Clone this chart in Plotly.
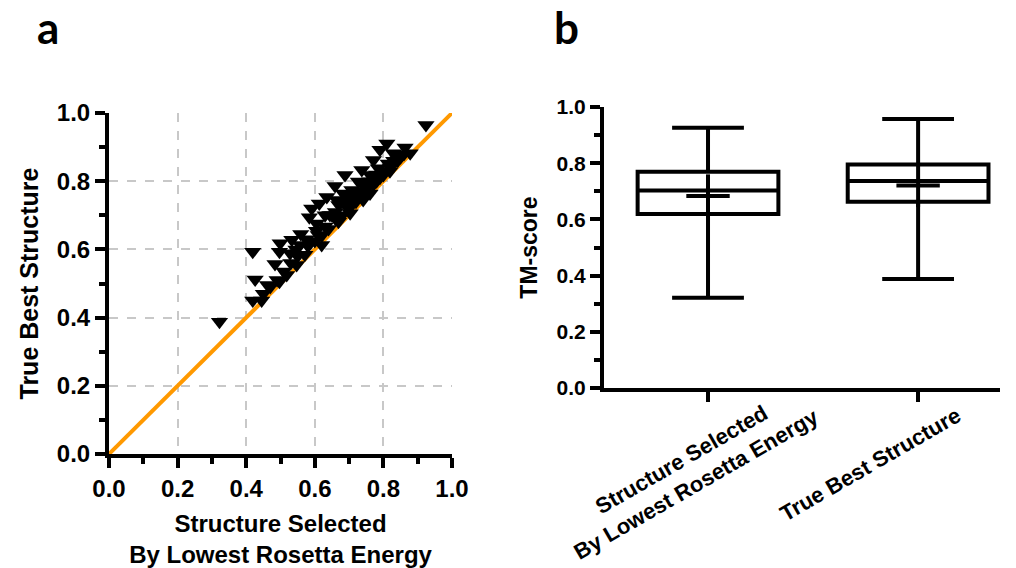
import plotly.graph_objects as go

# Panel a: TM-score of structure picked by lowest Rosetta energy (x) vs true best structure (y)
selected_tm = [
    0.322, 0.419, 0.426, 0.419, 0.445, 0.462, 0.484, 0.497, 0.499, 0.497,
    0.518, 0.533, 0.528, 0.547, 0.559, 0.557, 0.571, 0.586, 0.584, 0.591,
    0.605, 0.610, 0.620, 0.613, 0.635, 0.630, 0.644, 0.659, 0.664, 0.669,
    0.688, 0.683, 0.693, 0.703, 0.708, 0.717, 0.727, 0.737, 0.732, 0.741,
    0.751, 0.761, 0.771, 0.776, 0.785, 0.790, 0.810, 0.800, 0.814, 0.829,
    0.843, 0.863, 0.878, 0.819, 0.761, 0.924,
    0.450, 0.470, 0.490, 0.510, 0.530, 0.550, 0.580, 0.600, 0.620, 0.640,
    0.660, 0.680, 0.700, 0.720, 0.740, 0.750, 0.770, 0.790, 0.800, 0.820,
    0.840, 0.860, 0.650, 0.690, 0.710, 0.730, 0.760, 0.780,
    0.630, 0.670, 0.700, 0.720, 0.740, 0.760, 0.780, 0.660, 0.690, 0.710,
    0.605, 0.575, 0.545, 0.830, 0.850,
]
best_tm = [
    0.388, 0.593, 0.512, 0.450, 0.450, 0.496, 0.557, 0.505, 0.618, 0.593,
    0.525, 0.628, 0.589, 0.554, 0.645, 0.613, 0.584, 0.618, 0.694, 0.720,
    0.676, 0.642, 0.613, 0.735, 0.754, 0.667, 0.701, 0.786, 0.745, 0.681,
    0.818, 0.764, 0.726, 0.706, 0.774, 0.750, 0.799, 0.833, 0.764, 0.745,
    0.784, 0.818, 0.862, 0.799, 0.838, 0.892, 0.911, 0.818, 0.852, 0.882,
    0.862, 0.899, 0.882, 0.829, 0.764, 0.965,
    0.470, 0.490, 0.510, 0.535, 0.560, 0.580, 0.610, 0.625, 0.640, 0.660,
    0.690, 0.700, 0.720, 0.740, 0.760, 0.780, 0.790, 0.810, 0.830, 0.840,
    0.860, 0.880, 0.700, 0.740, 0.760, 0.770, 0.790, 0.800,
    0.700, 0.730, 0.750, 0.770, 0.790, 0.800, 0.820, 0.710, 0.730, 0.760,
    0.655, 0.630, 0.600, 0.860, 0.870,
]
identity_line = [0.0, 1.0]
axis_ticks = [0.0, 0.2, 0.4, 0.6, 0.8, 1.0]

# Panel b: box summary of the two TM-score distributions
categories = ["Structure Selected<br>By Lowest Rosetta Energy", "True Best Structure"]
q1 = [0.619, 0.663]
median = [0.703, 0.737]
q3 = [0.770, 0.795]
lower_whisker = [0.321, 0.388]
upper_whisker = [0.926, 0.957]
mean = [0.683, 0.721]

FONT = "Liberation Sans, Arial, sans-serif"
fig = go.Figure()

fig.add_trace(go.Scatter(
    x=identity_line, y=identity_line, mode="lines",
    line=dict(color="#FF9900", width=4), xaxis="x", yaxis="y",
    showlegend=False, cliponaxis=False,
))
fig.add_trace(go.Scatter(
    x=selected_tm, y=best_tm, mode="markers",
    marker=dict(symbol="triangle-down", size=15, color="black"),
    xaxis="x", yaxis="y", showlegend=False, cliponaxis=False,
))

fig.add_trace(go.Box(
    x=categories, q1=q1, median=median, q3=q3,
    lowerfence=lower_whisker, upperfence=upper_whisker,
    boxpoints=False, width=0.67, whiskerwidth=0.51,
    line=dict(color="black", width=4), fillcolor="white",
    xaxis="x2", yaxis="y2", showlegend=False,
))
# Mean shown as a "+" (horizontal and vertical strokes)
for sym in ("line-ew", "line-ns"):
    fig.add_trace(go.Scatter(
        x=categories, y=mean, mode="markers",
        marker=dict(symbol=sym, size=31, color="black",
                    line=dict(color="black", width=4)),
        xaxis="x2", yaxis="y2", showlegend=False,
    ))

axis_common = dict(
    showline=True, linewidth=4, linecolor="black",
    ticks="outside", ticklen=10, tickwidth=4, tickcolor="black",
    zeroline=False, range=[0, 1], automargin=False,
)
minor_ticks = dict(dtick=0.1, ticks="outside", ticklen=6, tickwidth=4,
                   tickcolor="black", showgrid=False)

fig.update_layout(
    width=1016, height=568,
    margin=dict(l=0, r=0, t=0, b=0),
    paper_bgcolor="white", plot_bgcolor="white",
    font=dict(family=FONT, color="black", weight="bold"),
    xaxis=dict(
        **axis_common, domain=[0.1073, 0.4449], anchor="y",
        tickvals=axis_ticks, tickformat=".1f",
        tickfont=dict(size=24, family=FONT, weight="bold"),
        showgrid=True, gridcolor="#c8c8c8", gridwidth=1.5, griddash="dash",
        minor=minor_ticks,
        title=dict(text="Structure Selected<br>By Lowest Rosetta Energy",
                   font=dict(size=24, family=FONT, weight="bold"), standoff=16),
    ),
    yaxis=dict(
        **axis_common, domain=[0.2007, 0.8010], anchor="x",
        tickvals=axis_ticks, tickformat=".1f",
        tickfont=dict(size=24, family=FONT, weight="bold"),
        showgrid=True, gridcolor="#c8c8c8", gridwidth=1.5, griddash="dash",
        minor=minor_ticks,
        title=dict(text="True Best Structure",
                   font=dict(size=25, family=FONT, weight="bold"), standoff=12),
    ),
    xaxis2=dict(
        type="category", domain=[0.5945, 0.9843], anchor="y2",
        range=[-0.495, 1.39], showline=True, linewidth=4, linecolor="black",
        ticks="outside", ticklen=10, tickwidth=4, tickcolor="black",
        showticklabels=False, showgrid=False, zeroline=False, automargin=False,
    ),
    yaxis2=dict(
        **axis_common, domain=[0.3169, 0.8116], anchor="x2",
        tickvals=axis_ticks, tickformat=".1f",
        tickfont=dict(size=21, family=FONT, weight="bold"),
        showgrid=False,
        minor=minor_ticks,
        title=dict(text="TM-score",
                   font=dict(size=23, family=FONT, weight="bold"), standoff=14),
    ),
)

# Rotated category labels under the box plot
label_shift = [-19, -48]
label_drop = [-84, -76]
for cat, dx, dy in zip(categories, label_shift, label_drop):
    fig.add_annotation(
        x=cat, y=0, xref="x2", yref="y2", text=cat, showarrow=False,
        textangle=-30, xanchor="center", yanchor="middle", align="center",
        xshift=dx, yshift=dy,
        font=dict(size=22, family=FONT, weight="bold", color="black"),
    )

# Panel letters
for letter, px in (("a", 48), ("b", 566)):
    fig.add_annotation(
        x=px / 1016, y=1 - 27 / 568, xref="paper", yref="paper", text=letter,
        showarrow=False, xanchor="center", yanchor="middle",
        font=dict(size=44, family="Lato", weight="bold", color="black"),
    )

fig.write_html("out.html")
